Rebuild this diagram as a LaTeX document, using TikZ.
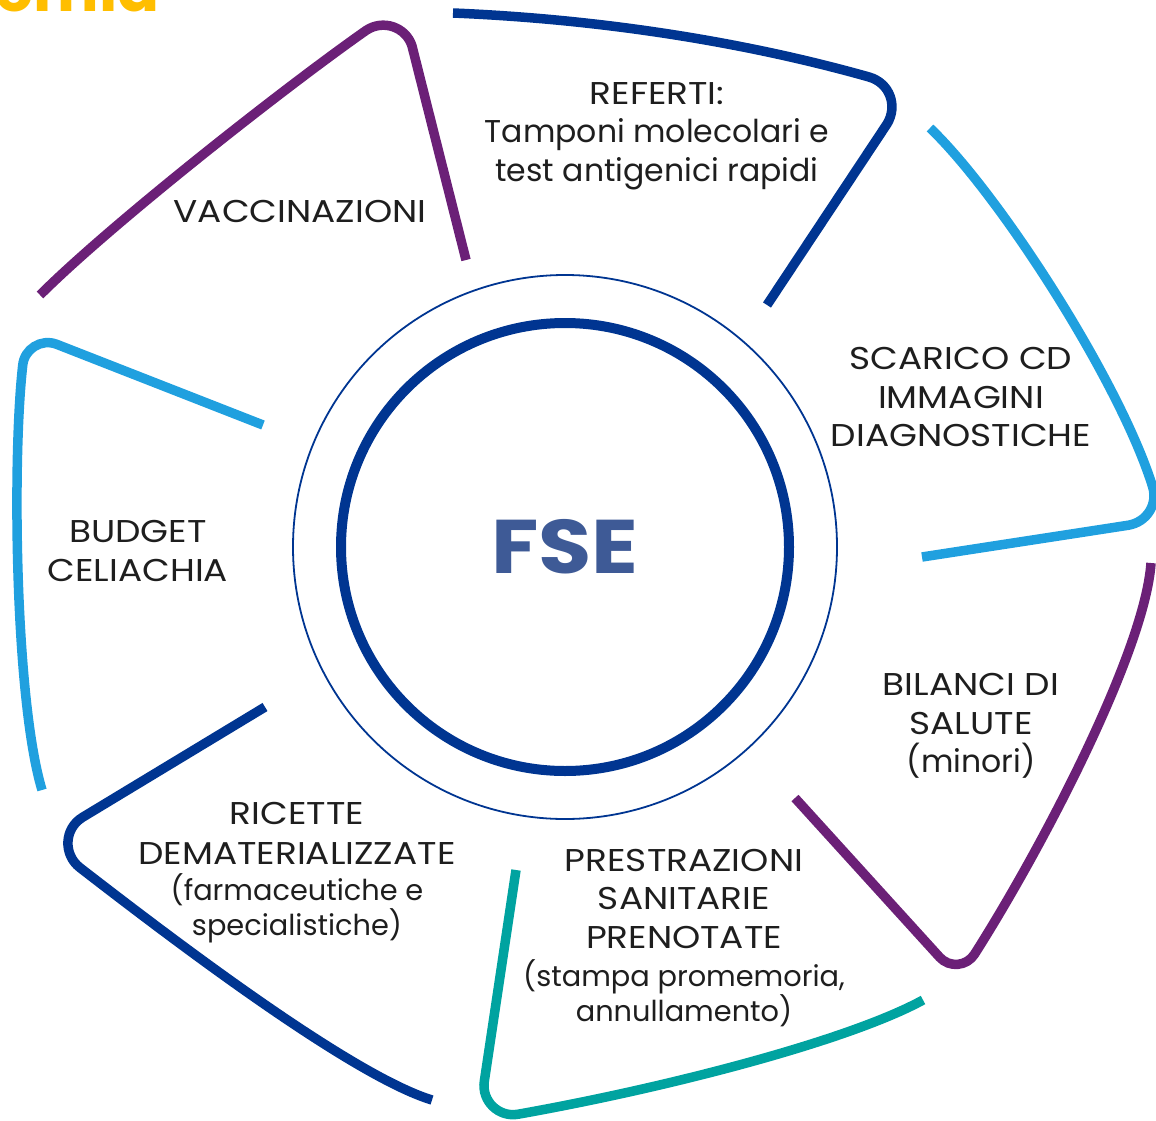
\documentclass[tikz,border=0pt]{standalone}
\usepackage{fontspec}
\setmainfont{Poppins}
\newfontfamily\capsfont[FakeStretch=1.14]{Poppins}
\usetikzlibrary{positioning}

\definecolor{fseblue}{RGB}{0,53,145}
\definecolor{fsetext}{RGB}{62,90,150}
\definecolor{viola}{RGB}{107,32,119}
\definecolor{azzurro}{RGB}{32,160,223}
\definecolor{verde}{RGB}{0,163,160}
\definecolor{giallo}{RGB}{255,190,0}
\definecolor{testo}{RGB}{30,30,30}
\newcommand{\paren}{\fontsize{28.8}{34}\selectfont}
\newcommand{\C}[1]{{\capsfont #1}}

\begin{document}
\begin{tikzpicture}[
    x=1pt, y=-1pt,
    seg/.style={line width=9.5pt},
    lbl/.style={align=center, text=testo, inner sep=0pt, font=\fontsize{31.5}{38.5}\selectfont},
    ring/.style={circle, draw=fseblue, inner sep=0pt}
]
\useasboundingbox (0,0) rectangle (1156,1121);

\node[anchor=base east, inner sep=0pt, text=giallo, font=\bfseries\fontsize{62}{62}\selectfont] (titolo) at (160,12) {emia};

\node[ring, line width=10pt, minimum size=448pt, text=fsetext, font=\capsfont\bfseries\fontsize{76}{76}\selectfont] (fse) at (565,547) {FSE};
\node[ring, line width=1.8pt, minimum size=544pt] (corona) at (fse.center) {};

\draw[seg, viola] (40,295) .. controls (110,225) and (284,88) .. (366,30.5) .. controls (383,19) and (406,27) .. (412,46) -- (466,260);
\draw[seg, fseblue] (453,13) .. controls (620,20) and (763,47) .. (869,77) .. controls (890,83) and (898,106) .. (887,124) -- (767,305);
\draw[seg, azzurro] (930,128) .. controls (1000,195) and (1120,382) .. (1152.6,486.7) .. controls (1158,504) and (1147,522) .. (1128.5,525.2) -- (922,557);
\draw[seg, viola] (1151,563) .. controls (1145,650) and (1044,845) .. (974.5,954.2) .. controls (966.7,966.4) and (949.4,968) .. (939.6,957.2) -- (795,798);
\draw[seg, verde] (923,1000) .. controls (850,1040) and (671,1087) .. (518.2,1114.2) .. controls (498.6,1117.7) and (481.4,1101) .. (484.3,1081.3) -- (516,870);
\draw[seg, fseblue] (432,1100) .. controls (350,1075) and (167,935) .. (80,867.7) .. controls (63,854.6) and (64,828.4) .. (82.7,817.2) -- (265,707);
\draw[seg, azzurro] (42,790) .. controls (15,700) and (12,460) .. (22.7,365.4) .. controls (24.2,349) and (41.2,338.3) .. (56.7,344.3) -- (263,425);

\node[lbl] (vacc) at (300,211) {\C{VACCINAZIONI}};
\node[lbl] (referti) at (657,136) {\C{REFERTI:}\\Tamponi molecolari e\\test antigenici rapidi};
\node[lbl] (scarico) at (961,397) {\C{SCARICO CD}\\\C{IMMAGINI}\\\C{DIAGNOSTICHE}};
\node[lbl] (budget) at (138,551) {\C{BUDGET}\\\C{CELIACHIA}};
\node[lbl] (bilanci) at (971,726) {\C{BILANCI DI}\\\C{SALUTE}\\(minori)};
\node[lbl] (prest) at (684,938) {\C{PRESTRAZIONI}\\\C{SANITARIE}\\\C{PRENOTATE}\\\paren(stampa promemoria,\\[-4pt]\paren annullamento)};
\node[lbl] (ricette) at (297,873) {\C{RICETTE}\\[1.5pt]\C{DEMATERIALIZZATE}\\[-2.5pt]\paren(farmaceutiche e\\[-3.5pt]\paren specialistiche)};

\end{tikzpicture}
\end{document}
